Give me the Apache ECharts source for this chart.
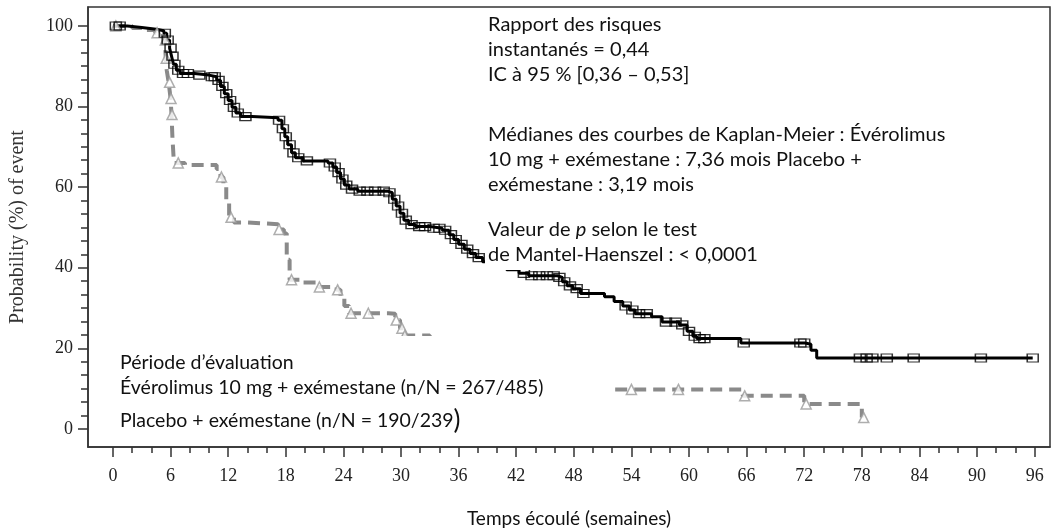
<!DOCTYPE html>
<html><head><meta charset="utf-8">
<script src="https://cdn.jsdelivr.net/npm/echarts@6/dist/echarts.min.js"></script>
<style>html,body{margin:0;padding:0;background:#fff}#c{width:1055px;height:531px}</style>
</head><body><div id="c"></div>
<script>
// Everolimus 10 mg + exemestane : Kaplan-Meier steps (weeks, %)
const evTime = [0,1.5,3,4.5,5.3,5.6,5.9,6.1,6.3,6.6,7.0,8.5,10.0,10.8,11.2,11.6,12.0,12.4,12.8,13.3,14.5,17.2,17.6,17.9,18.2,18.6,19.0,19.8,22.4,22.9,23.3,23.7,24.1,24.6,25.5,28.6,29.1,29.5,29.9,30.3,30.8,31.5,33.0,34.3,35.0,35.5,36.0,36.6,37.2,37.8,38.5,39.5,41.0,42.3,43.3,46.3,46.8,47.3,47.9,48.7,51.2,52.2,53.1,53.8,54.4,56.1,57.2,59.0,59.8,60.4,60.8,65.4,72.1,72.7,73.3,95.8];
const evSurv = [100,99.6,99.2,98.8,98.2,96.5,94.5,92.5,90.5,89,88.2,87.8,87.4,86.5,85,83.2,81.5,79.8,78.4,77.5,77.2,76.6,74.5,72.5,70.5,68.5,67.3,66.5,66.0,65,63.6,62,60.5,59.5,59.0,58.6,57,55.3,53.5,51.8,50.7,50.2,49.8,49.3,48.2,47,45.8,44.6,43.5,42.5,41.5,40.5,39.5,38.6,38.0,37.6,36.5,35.5,34.8,33.6,32.8,31.6,30.5,29.5,28.6,27.8,26.5,25.8,24.2,23.0,22.4,21.3,21.0,19.5,17.6,17.6];
// Everolimus censored observations
const evCensorT = [0.3,0.7,5.4,5.7,6.0,6.2,6.4,6.8,7.3,7.8,9.0,10.3,10.6,11.0,11.4,11.8,12.2,12.6,13.0,13.8,17.3,17.7,18.0,18.4,18.8,19.3,20.2,22.6,23.1,23.5,23.9,24.3,24.9,25.7,26.5,27.3,28.2,28.8,29.3,29.7,30.1,30.5,31.1,31.9,32.5,33.4,34.0,34.6,35.2,35.7,36.3,36.9,37.5,38.1,42.8,43.6,44.4,45.2,45.9,46.5,47.0,47.6,48.3,49.0,53.4,54.1,54.8,55.6,57.6,58.6,59.3,60.0,60.6,61.1,61.6,65.7,71.6,72.0,77.8,78.5,79.1,80.6,83.4,90.4,95.8];
const evCensorS = [100,100,98.2,96.5,94.5,92.5,90.5,89,88.2,88.2,87.8,87.4,87.4,86.5,85,83.2,81.5,79.8,78.4,77.5,76.6,74.5,72.5,70.5,68.5,67.3,66.5,66.0,65,63.6,62,60.5,59.5,59.0,59.0,59.0,59.0,58.6,57,55.3,53.5,51.8,50.7,50.2,50.2,49.8,49.8,49.3,48.2,47,45.8,44.6,43.5,42.5,38.6,38.0,38.0,38.0,38.0,37.6,36.5,35.5,34.8,33.6,30.5,29.5,28.6,28.6,26.5,26.5,25.8,24.2,23.0,22.4,22.4,21.3,21.3,21.3,17.6,17.6,17.6,17.6,17.6,17.6,17.6];
// Placebo + exemestane
const plTime = [0,2.0,3.5,4.4,5.0,5.4,5.5,5.6,5.8,6.0,6.1,6.2,6.35,7.5,10.8,11.2,11.5,11.8,12.1,12.6,14.0,17.2,17.8,18.1,18.4,19.5,21.4,23.3,23.7,24.1,24.6,28.7,29.4,29.9,30.3,33.0,37.0,42.0,47.0,51.5,65.6,72.0,78.0];
const plSurv = [100,99.5,99,98.3,97.5,96.5,92,89,86,82,78,72,66,65.5,64.5,62.5,60.5,56,52.5,51.2,50.8,49.5,48.5,42,37,36.3,35.2,34.5,32.5,30.5,28.7,28.6,27,25,23.2,21.5,18.5,15,12,9.8,8.2,6.2,2.8];
const plCensorT = [0.3,4.6,5.45,5.55,5.9,6.05,6.15,6.8,11.3,12.3,17.3,18.6,21.5,23.4,24.8,26.6,29.5,30.1,30.4,54.0,58.9,65.8,72.2,78.2];
const plCensorS = [100,98.3,96.5,92,86,82,78,66,62.5,52.5,49.5,37,35.2,34.5,28.7,28.7,27,25,23.2,9.8,9.8,8.2,6.2,2.8];
// Tick labels
const xTicks = [0,6,12,18,24,30,36,42,48,54,60,66,72,78,84,90,96];
const yTicks = [0,20,40,60,80,100];

const xMinor = [];
for (let v = 2; v < 96; v += 2) if (v % 6 !== 0) xMinor.push(v);
const yMinor = [];
for (let k = 0; k < 5; k++) for (let j = 1; j < 6; j++) yMinor.push(k * 20 + j * 20 / 6);

const pair = (a, b) => a.map((v, i) => [v, b[i]]);
const SANS = 'Lato, "Open Sans", sans-serif';
const SERIF = '"Liberation Serif", "DejaVu Serif", serif';
const TXT = 20, LEG = 19.5;
const X0 = -2.6, X1 = 97.6, Y0 = -4.5, Y1 = 104.7;
const axisCol = '#333';

function txt(x, y, text, size, extra) {
  return {
    type: 'text', x: x, y: y, z: 60, silent: true,
    style: Object.assign({ text: text, fontFamily: SANS, fontSize: size, fill: '#111', verticalAlign: 'middle' }, extra || {})
  };
}

const chart = echarts.init(document.getElementById('c'), null, { renderer: 'canvas' });
chart.setOption({
  animation: false,
  grid: { left: 88, right: 5, top: 7, bottom: 84, show: true, borderColor: axisCol, borderWidth: 1.5, containLabel: false, outerBoundsMode: 'none' },
  xAxis: [{
    type: 'value', min: X0, max: X1,
    name: 'Temps écoulé (semaines)', nameLocation: 'middle', nameGap: 62,
    nameTextStyle: { fontFamily: SANS, fontSize: 19, color: '#111' },
    axisLine: { show: true, onZero: false, lineStyle: { color: axisCol, width: 1.5 } },
    axisTick: { show: true, customValues: xTicks, length: 10, lineStyle: { color: axisCol, width: 1.5 } },
    axisLabel: { customValues: xTicks, margin: 20, fontFamily: SERIF, fontSize: 18, color: '#222' },
    splitLine: { show: false }
  }, {
    type: 'value', min: X0, max: X1, position: 'bottom',
    axisLine: { show: false, onZero: false },
    axisTick: { show: true, customValues: xMinor, length: 6, lineStyle: { color: axisCol, width: 1.5 } },
    axisLabel: { show: false }, splitLine: { show: false }
  }],
  yAxis: [{
    type: 'value', min: Y0, max: Y1,
    name: 'Probability (%) of event', nameLocation: 'middle', nameGap: 60,
    nameTextStyle: { fontFamily: SERIF, fontSize: 20, color: '#333' },
    axisLine: { show: true, onZero: false, lineStyle: { color: axisCol, width: 1.5 } },
    axisTick: { show: true, customValues: yTicks, length: 10, lineStyle: { color: axisCol, width: 1.5 } },
    axisLabel: { customValues: yTicks, margin: 15, fontFamily: SERIF, fontSize: 18, color: '#222' },
    splitLine: { show: false }
  }, {
    type: 'value', min: Y0, max: Y1, position: 'left',
    axisLine: { show: false, onZero: false },
    axisTick: { show: true, customValues: yMinor, length: 7, lineStyle: { color: axisCol, width: 1.5 } },
    axisLabel: { show: false }, splitLine: { show: false }
  }],
  series: [{
    name: 'Placebo + exémestane', type: 'line', step: 'end', symbol: 'none', silent: true, z: 2,
    data: pair(plTime, plSurv),
    lineStyle: { color: '#8a8a8a', width: 4, type: [12, 7] }
  }, {
    name: 'Évérolimus 10 mg + exémestane', type: 'line', step: 'end', symbol: 'none', silent: true, z: 3,
    data: pair(evTime, evSurv),
    lineStyle: { color: '#000', width: 3 }
  }, {
    type: 'scatter', symbol: 'triangle', symbolSize: 10, silent: true, z: 3,
    data: pair(plCensorT, plCensorS),
    itemStyle: { color: '#fff', borderColor: '#9a9a9a', borderWidth: 1.5 }
  }, {
    type: 'scatter', symbol: 'rect', symbolSize: [11, 8], silent: true, z: 4,
    data: pair(evCensorT, evCensorS),
    itemStyle: { color: 'rgba(255,255,255,0)', borderColor: '#000', borderWidth: 1.3 }
  }],
  graphic: [
    { type: 'rect', z: 50, silent: true, shape: { x: 485, y: 9, width: 560, height: 261 }, style: { fill: '#fff' } },
    { type: 'rect', z: 50, silent: true, shape: { x: 100, y: 336, width: 511, height: 109 }, style: { fill: '#fff' } },
    txt(488, 25, 'Rapport des risques', TXT),
    txt(488, 50, 'instantanés = 0,44', TXT),
    txt(488, 75, 'IC à 95 % [0,36 – 0,53]', TXT),
    txt(488, 135, 'Médianes des courbes de Kaplan-Meier : Évérolimus', TXT),
    txt(488, 160, '10 mg + exémestane : 7,36 mois Placebo +', TXT),
    txt(488, 185, 'exémestane : 3,19 mois', TXT),
    txt(488, 230, 'Valeur de {i|p} selon le test', TXT, { rich: { i: { fontStyle: 'italic', fontFamily: SANS, fontSize: TXT, fill: '#111' } } }),
    txt(488, 255, 'de Mantel-Haenszel : < 0,0001', TXT),
    txt(120, 363, 'Période d’évaluation', LEG),
    txt(120, 388, 'Évérolimus 10 mg + exémestane (n/N = 267/485)', LEG),
    txt(120, 421, 'Placebo + exémestane (n/N = 190/239{b|)}', LEG, { rich: { b: { fontFamily: SANS, fontSize: 26, fill: '#111' } } })
  ]
});
</script>
</body></html>
